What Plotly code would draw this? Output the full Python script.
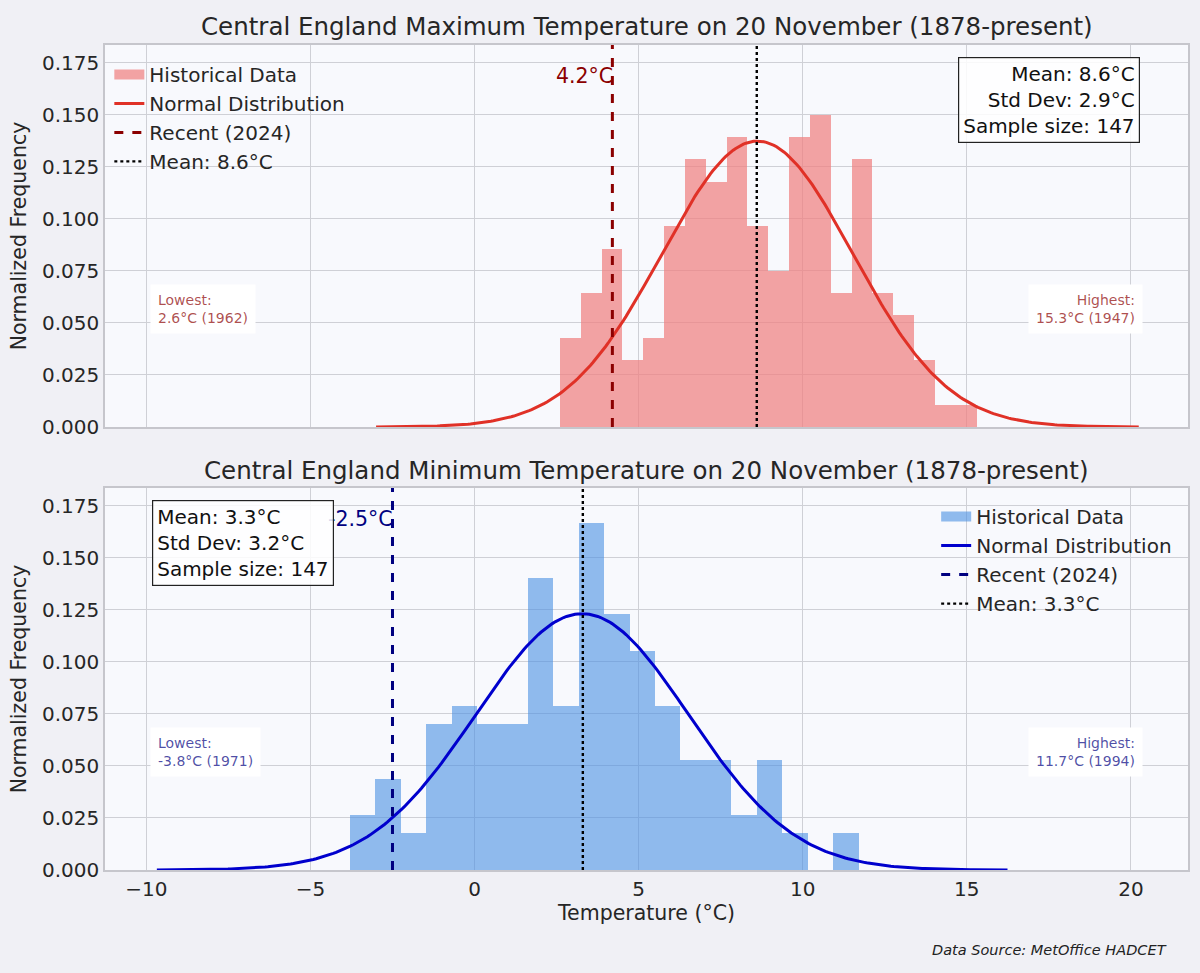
import numpy as np
import plotly.graph_objects as go

# ---------------- data ----------------
tmax_counts = [4, 6, 8, 3, 4, 9, 12, 11, 13, 9, 7, 13, 14, 6, 12, 6, 5, 3, 1, 1]
tmax_min, tmax_max = 2.6, 15.3
tmax_mean, tmax_std = 8.62, 2.905
tmax_recent = 4.2
tmax_low_label = "Lowest:<br>2.6°C (1962)"
tmax_high_label = "Highest:<br>15.3°C (1947)"

tmin_counts = [3, 5, 2, 8, 9, 8, 8, 16, 9, 19, 14, 12, 9, 6, 6, 3, 6, 2, 0, 2]
tmin_min, tmin_max = -3.8, 11.7
tmin_mean, tmin_std = 3.28, 3.24
tmin_recent = -2.5
tmin_low_label = "Lowest:<br>-3.8°C (1971)"
tmin_high_label = "Highest:<br>11.7°C (1994)"

sample_size = 147
x_ticks = [-10, -5, 0, 5, 10, 15, 20]
y_ticks = [0.0, 0.025, 0.05, 0.075, 0.1, 0.125, 0.15, 0.175]

FONT = "DejaVu Sans"
TXT = "#262626"


def hist_bars(counts, lo, hi):
    nb = len(counts)
    w = (hi - lo) / nb
    n = sum(counts)
    centers = [lo + (i + 0.5) * w for i in range(nb)]
    dens = [c / (n * w) for c in counts]
    return centers, dens, w


def normal_curve(mu, sd):
    xs = np.linspace(mu - 4 * sd, mu + 4 * sd, 300)
    ys = np.exp(-0.5 * ((xs - mu) / sd) ** 2) / (sd * np.sqrt(2 * np.pi))
    return xs, ys


fig = go.Figure()

panels = [
    dict(counts=tmax_counts, lo=tmax_min, hi=tmax_max, mu=tmax_mean, sd=tmax_std,
         recent=tmax_recent, bar="rgba(240,128,128,0.72)", curve="#e03127",
         rc="#8b0000", xa="x", ya="y", legend="legend",
         low=tmax_low_label, high=tmax_high_label, lab="rgba(139,0,0,0.7)"),
    dict(counts=tmin_counts, lo=tmin_min, hi=tmin_max, mu=tmin_mean, sd=tmin_std,
         recent=tmin_recent, bar="rgba(74,144,226,0.6)", curve="#0000cd",
         rc="#000080", xa="x2", ya="y2", legend="legend2",
         low=tmin_low_label, high=tmin_high_label, lab="rgba(0,0,128,0.7)"),
]

ymax = 0.1835
annotations = []
for k, p in enumerate(panels):
    cx, dy, w = hist_bars(p["counts"], p["lo"], p["hi"])
    fig.add_trace(go.Bar(x=cx, y=dy, width=w, marker=dict(color=p["bar"], line=dict(width=0)),
                         name="Historical Data", xaxis=p["xa"], yaxis=p["ya"],
                         showlegend=False, legendgroup=f"h{k}"))
    # legend patch for the histogram (wide rectangle like the reference)
    fig.add_trace(go.Scatter(x=[None], y=[None], mode="lines",
                             line=dict(color=p["bar"], width=14),
                             name="Historical Data", xaxis=p["xa"], yaxis=p["ya"],
                             legend=p["legend"], legendgroup=f"h{k}"))
    xs, ys = normal_curve(p["mu"], p["sd"])
    fig.add_trace(go.Scatter(x=xs, y=ys, mode="lines", line=dict(color=p["curve"], width=3),
                             name="Normal Distribution", xaxis=p["xa"], yaxis=p["ya"],
                             legend=p["legend"], legendgroup=f"n{k}"))
    fig.add_trace(go.Scatter(x=[p["recent"], p["recent"]], y=[0, ymax], mode="lines",
                             line=dict(color=p["rc"], width=3, dash="dash"),
                             name="Recent (2024)", xaxis=p["xa"], yaxis=p["ya"],
                             legend=p["legend"], legendgroup=f"r{k}"))
    mean_r = round(p["mu"], 1)
    fig.add_trace(go.Scatter(x=[mean_r, mean_r], y=[0, ymax], mode="lines",
                             line=dict(color="black", width=2.4, dash="dot"),
                             name=f"Mean: {mean_r:.1f}°C", xaxis=p["xa"], yaxis=p["ya"],
                             legend=p["legend"], legendgroup=f"m{k}"))
    # recent label
    annotations.append(dict(x=p["recent"], y=0.1688, xref=p["xa"], yref=p["ya"],
                            text=f"{p['recent']:.1f}°C", showarrow=False, xanchor="right",
                            yanchor="middle", xshift=3,
                            font=dict(family=FONT, size=20.5, color=p["rc"])))
    dom_x = p["xa"] + " domain"
    dom_y = p["ya"] + " domain"
    annotations.append(dict(x=0.042, y=0.309, xref=dom_x, yref=dom_y, text=p["low"],
                            showarrow=False, xanchor="left", yanchor="middle", align="left",
                            bgcolor="white", borderpad=7,
                            font=dict(family=FONT, size=14, color=p["lab"])))
    annotations.append(dict(x=0.958, y=0.309, xref=dom_x, yref=dom_y, text=p["high"],
                            showarrow=False, xanchor="right", yanchor="middle", align="right",
                            bgcolor="white", borderpad=7,
                            font=dict(family=FONT, size=14, color=p["lab"])))
    stats = (f"Mean: {p['mu']:.1f}°C<br>Std Dev: {p['sd']:.1f}°C<br>"
             f"Sample size: {sample_size}")
    if k == 0:
        annotations.append(dict(x=0.956, y=0.968, xref=dom_x, yref=dom_y, text=stats,
                                showarrow=False, xanchor="right", yanchor="top", align="right",
                                bgcolor="rgba(255,255,255,0.85)", bordercolor="#222",
                                borderwidth=1.2, borderpad=4,
                                font=dict(family=FONT, size=20, color="#111")))
    else:
        annotations.append(dict(x=0.043, y=0.968, xref=dom_x, yref=dom_y, text=stats,
                                showarrow=False, xanchor="left", yanchor="top", align="left",
                                bgcolor="rgba(255,255,255,0.85)", bordercolor="#222",
                                borderwidth=1.2, borderpad=4,
                                font=dict(family=FONT, size=20, color="#111")))

# titles
annotations.append(dict(x=0.5, y=1.0, xref="x domain", yref="y domain", yshift=2,
                        text="Central England Maximum Temperature on 20 November (1878-present)",
                        showarrow=False, xanchor="center", yanchor="bottom",
                        font=dict(family=FONT, size=24.5, color=TXT)))
annotations.append(dict(x=0.5, y=1.0, xref="x2 domain", yref="y2 domain", yshift=1,
                        text="Central England Minimum Temperature on 20 November (1878-present)",
                        showarrow=False, xanchor="center", yanchor="bottom",
                        font=dict(family=FONT, size=24.5, color=TXT)))
annotations.append(dict(x=0.982, y=-0.097, xref="paper", yref="paper",
                        text="<i>Data Source: MetOffice HADCET</i>", showarrow=False,
                        xanchor="right", yanchor="middle",
                        font=dict(family=FONT, size=14.5, color="#222")))

grid = "#cfd0d6"
axis_common = dict(showgrid=True, gridcolor=grid, gridwidth=1, showline=True,
                   linecolor="#c6c6cc", linewidth=1.5, mirror=True, zeroline=False,
                   ticks="", automargin=False,
                   tickfont=dict(family=FONT, size=20, color=TXT))

fig.update_layout(
    width=1200, height=973,
    paper_bgcolor="#f0f0f5", plot_bgcolor="#f8f9fd",
    margin=dict(l=105, r=12, t=45, b=103),
    bargap=0, barmode="overlay",
    font=dict(family=FONT, color=TXT),
    xaxis=dict(domain=[0, 1], anchor="y", range=[-11.26, 21.74], tickvals=x_ticks,
               showticklabels=False, matches="x2", **axis_common),
    yaxis=dict(domain=[0.537, 1], anchor="x", range=[0, ymax], tickvals=y_ticks,
               tickformat=".3f",
               title=dict(text="Normalized Frequency", font=dict(family=FONT, size=20.5, color=TXT),
                          standoff=10),
               **axis_common),
    xaxis2=dict(domain=[0, 1], anchor="y2", range=[-11.26, 21.74], tickvals=x_ticks,
                tickformat="d",
                title=dict(text="Temperature (°C)", font=dict(family=FONT, size=20.5, color=TXT),
                           standoff=6),
                **axis_common),
    yaxis2=dict(domain=[0, 0.463], anchor="x2", range=[0, ymax], tickvals=y_ticks,
                tickformat=".3f",
                title=dict(text="Normalized Frequency", font=dict(family=FONT, size=20.5, color=TXT),
                           standoff=10),
                **axis_common),
    legend=dict(x=0.004, y=0.988, xanchor="left", yanchor="top", bgcolor="rgba(0,0,0,0)",
                font=dict(family=FONT, size=20, color=TXT), tracegroupgap=3,
                traceorder="normal"),
    legend2=dict(x=0.99, y=0.452, xanchor="right", yanchor="top", bgcolor="rgba(0,0,0,0)",
                 font=dict(family=FONT, size=20, color=TXT), tracegroupgap=3,
                 traceorder="normal"),
    annotations=annotations,
    showlegend=True,
)

fig.write_html("out.html", config={"displayModeBar": False},
               post_script="document.body.style.margin='0';")
